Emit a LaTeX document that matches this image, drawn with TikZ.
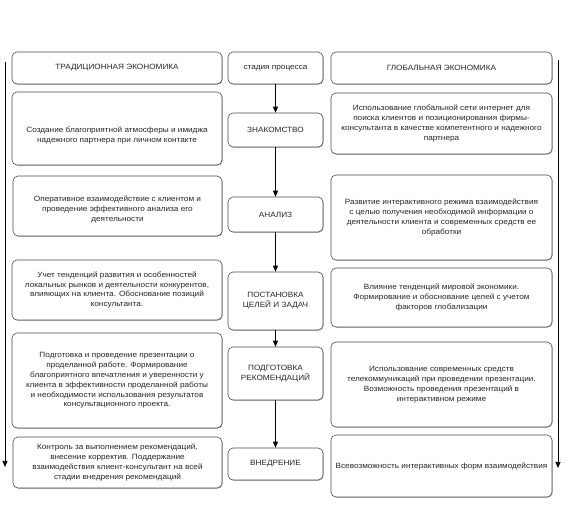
\documentclass[tikz,border=0pt]{standalone}
\usepackage{fontspec}
\newfontfamily\boxfont[FakeStretch=1.08]{Liberation Sans}
\usetikzlibrary{arrows.meta,shadows}
\begin{document}
\begin{tikzpicture}[x=1pt,y=-1pt,
  box/.style={draw=black!70, line width=0.6pt, rounded corners=5pt, fill=white,
    drop shadow={shadow xshift=0.6pt, shadow yshift=-0.6pt, fill=black!45, opacity=0.8},
    align=center, inner sep=2pt, text=black!85,
    font=\boxfont\fontsize{7.6}{9.8}\selectfont},
  arr/.style={draw=black, line width=0.7pt, -{Triangle[width=5pt,length=6pt]}}]
\useasboundingbox (0,0) rectangle (566,505);
% headers
\node[box, minimum width=210pt, minimum height=32pt] (L0) at (117,68) {ТРАДИЦИОННАЯ ЭКОНОМИКА};
\node[box, minimum width=95pt, minimum height=32pt] (C0) at (275.5,68) {стадия процесса};
\node[box, minimum width=221pt, minimum height=32pt] (R0) at (441.5,68) {ГЛОБАЛЬНАЯ ЭКОНОМИКА};
% left column
\node[box, minimum width=210pt, minimum height=73pt] (L1) at (117,128.5) {\rule{0pt}{20pt}Создание благоприятной атмосферы и имиджа\\надежного партнера при личном контакте};
\node[box, minimum width=209pt, minimum height=60pt] (L2) at (117.5,206) {\rule{0pt}{12pt}Оперативное взаимодействие с клиентом и\\проведение эффективного анализа его\\деятельности};
\node[box, minimum width=210pt, minimum height=60pt] (L3) at (117,290) {Учет тенденций развития и особенностей\\локальных рынков и деятельности конкурентов,\\влияющих на клиента. Обоснование позиций\\консультанта.};
\node[box, minimum width=210pt, minimum height=95pt] (L4) at (117,380.5) {Подготовка и проведение презентации о\\проделанной работе. Формирование\\благоприятного впечатления и уверенности у\\клиента в эффективности проделанной работы\\и необходимости использования результатов\\консультационного проекта.};
\node[box, minimum width=209pt, minimum height=51pt] (L5) at (117.5,462.5) {Контроль за выполнением рекомендаций,\\внесение корректив. Поддержание\\взаимодействия клиент-консультант на всей\\стадии внедрения рекомендаций};
% right column
\node[box, minimum width=221pt, minimum height=61pt] (R1) at (441.5,123.5) {Использование глобальной сети интернет для\\поиска клиентов и позиционирования фирмы-\\консультанта в качестве компетентного и надежного\\партнера};
\node[box, minimum width=221pt, minimum height=85pt] (R2) at (441.5,217.5) {Развитие интерактивного режима взаимодействия\\с целью получения необходимой информации о\\деятельности клиента и современных средств ее\\обработки};
\node[box, minimum width=221pt, minimum height=59pt] (R3) at (441.5,297.5) {Влияние тенденций мировой экономики.\\Формирование и обоснование целей с учетом\\факторов глобализации};
\node[box, minimum width=221pt, minimum height=85pt] (R4) at (441.5,384.5) {Использование современных средств\\телекоммуникаций при проведении презентации.\\Возможность проведения презентаций в\\интерактивном режиме};
\node[box, minimum width=221pt, minimum height=62pt] (R5) at (441.5,466) {Всевозможность интерактивных форм взаимодействия};
% center column
\node[box, minimum width=95pt, minimum height=34pt] (C1) at (275.5,130) {ЗНАКОМСТВО};
\node[box, minimum width=95pt, minimum height=35pt] (C2) at (275.5,214.5) {АНАЛИЗ};
\node[box, minimum width=95pt, minimum height=58pt] (C3) at (275.5,301) {ПОСТАНОВКА\\ЦЕЛЕЙ И ЗАДАЧ};
\node[box, minimum width=95pt, minimum height=53pt] (C4) at (275.5,373.5) {ПОДГОТОВКА\\РЕКОМЕНДАЦИЙ};
\node[box, minimum width=95pt, minimum height=32pt] (C5) at (275.5,464) {ВНЕДРЕНИЕ};
% center arrows
\draw[arr] (C0) -- (C1);
\draw[arr] (C1) -- (C2);
\draw[arr] (C2) -- (C3);
\draw[arr] (C3) -- (C4);
\draw[arr] (C4) -- (C5);
% side arrows
\coordinate (lt) at (5,62);
\coordinate (lb) at (5,467);
\coordinate (rt) at (558,60);
\coordinate (rb) at (558,468);
\draw[arr] (lt) -- (lb);
\draw[arr] (rt) -- (rb);
\end{tikzpicture}
\end{document}
